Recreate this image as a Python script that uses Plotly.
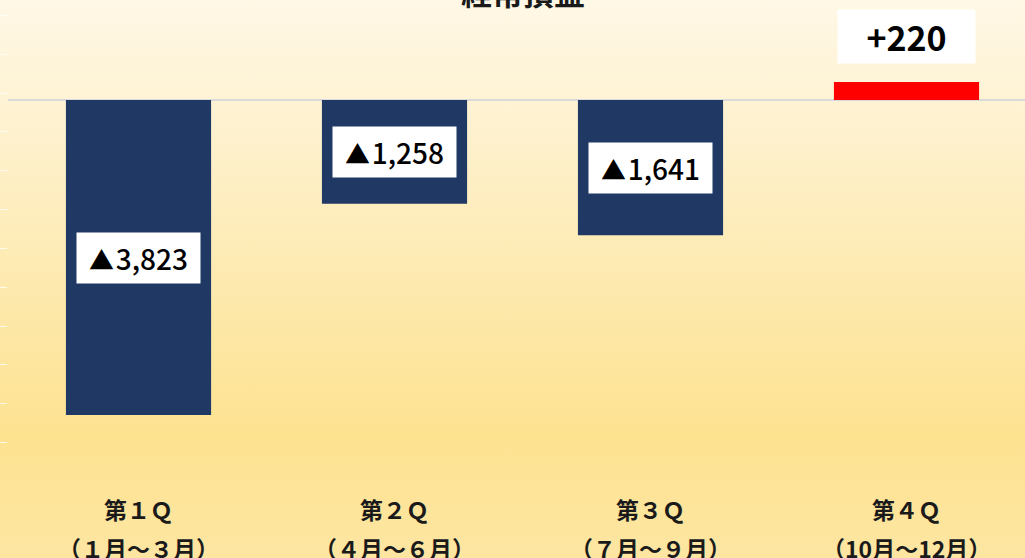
import base64
import plotly.graph_objects as go

# Quarterly ordinary profit/loss
quarters = ["第１Ｑ", "第２Ｑ", "第３Ｑ", "第４Ｑ"]
periods = ["（１月～３月）", "（４月～６月）", "（７月～９月）", "（10月～12月）"]
values = [-3823, -1258, -1641, 220]
title_text = "経常損益"

NAVY = "#203864"
RED = "#FF0000"
JP_FONT = "Noto Sans CJK JP"

x_pos = list(range(len(quarters)))
colors = [NAVY if v < 0 else RED for v in values]

fig = go.Figure()
fig.add_trace(go.Bar(
    x=x_pos, y=values, width=0.567,
    marker=dict(color=colors, line=dict(width=0)),
    hoverinfo="skip",
))

def fmt(v):
    if v < 0:
        return f"<span style='font-size:25px'>▲</span><span style='font-size:8px'> </span>{abs(v):,}"
    return f"+{v:,}"

annotations = []
for xi, v in zip(x_pos, values):
    if v < 0:
        annotations.append(dict(
            x=xi, y=v / 2, xref="x", yref="y", text=fmt(v), showarrow=False,
            font=dict(family=JP_FONT, size=28, color="#000000", weight=500),
            bgcolor="#FFFFFF", borderpad=4, width=115, height=42,
            xanchor="center", yanchor="middle",
        ))
    else:
        annotations.append(dict(
            x=xi, y=v, xref="x", yref="y", text=f"<b>{fmt(v)}</b>", showarrow=False,
            font=dict(family=JP_FONT, size=34, color="#000000"),
            bgcolor="#FFFFFF", borderpad=4, width=129, height=45,
            xanchor="center", yanchor="bottom", yshift=18,
        ))

# Two-line category labels under the plot area
for xi, q, p in zip(x_pos, quarters, periods):
    annotations.append(dict(
        x=xi, y=0, xref="x", yref="paper", text=f"<b>{q}</b>", showarrow=False,
        font=dict(family=JP_FONT, size=23, color="#1a1a1a"),
        xanchor="center", yanchor="middle", yshift=-29,
    ))
    annotations.append(dict(
        x=xi, y=0, xref="x", yref="paper", text=f"<b>{p}</b>", showarrow=False,
        font=dict(family=JP_FONT, size=23, color="#1a1a1a"),
        xanchor="center", yanchor="middle", yshift=-68,
    ))

# Chart title, mostly above the visible area
annotations.append(dict(
    x=1.5, y=1, xref="x", yref="paper", text=f"<b>{title_text}</b>", showarrow=False,
    font=dict(family=JP_FONT, size=31, color="#1a1a1a"),
    xanchor="center", yanchor="middle", yshift=9,
))

# Vertical cream-to-yellow background gradient
svg = (
    '<svg xmlns="http://www.w3.org/2000/svg" width="100" height="558" preserveAspectRatio="none">'
    '<defs><linearGradient id="g" x1="0" y1="0" x2="0" y2="1">'
    '<stop offset="0" stop-color="#FFF8E6"/>'
    '<stop offset="0.2" stop-color="#FEF2D2"/>'
    '<stop offset="0.78" stop-color="#FDE290"/>'
    '<stop offset="1" stop-color="#FDE6A2"/>'
    '</linearGradient></defs>'
    '<rect width="100" height="558" fill="url(#g)"/></svg>'
)
bg_src = "data:image/svg+xml;base64," + base64.b64encode(svg.encode()).decode()

W, H = 1025, 558
ML, MR, MT, MB = 8, 0, 0, 78
pw, ph = W - ML - MR, H - MT - MB

fig.update_layout(
    width=W, height=H,
    margin=dict(l=ML, r=MR, t=MT, b=MB),
    paper_bgcolor="#FDEBB8", plot_bgcolor="rgba(0,0,0,0)",
    showlegend=False,
    annotations=annotations,
    images=[dict(
        source=bg_src, xref="paper", yref="paper",
        x=-ML / pw, y=1 + MT / ph, sizex=W / pw, sizey=H / ph,
        xanchor="left", yanchor="top", sizing="stretch", layer="below",
    )],
    xaxis=dict(
        range=[-0.5098, -0.5098 + pw / 256], showgrid=False, zeroline=False,
        showticklabels=False, ticks="", showline=False, fixedrange=True,
    ),
    yaxis=dict(
        range=[-4612, 1214], showgrid=False, showticklabels=False,
        zeroline=True, zerolinecolor="#D9D9D9", zerolinewidth=2,
        tickmode="linear", tick0=-388, dtick=471,
        ticks="outside", ticklen=7, tickwidth=1, tickcolor="rgba(255,255,255,0.75)",
        showline=False, fixedrange=True,
    ),
)

fig.write_html("out.html")
